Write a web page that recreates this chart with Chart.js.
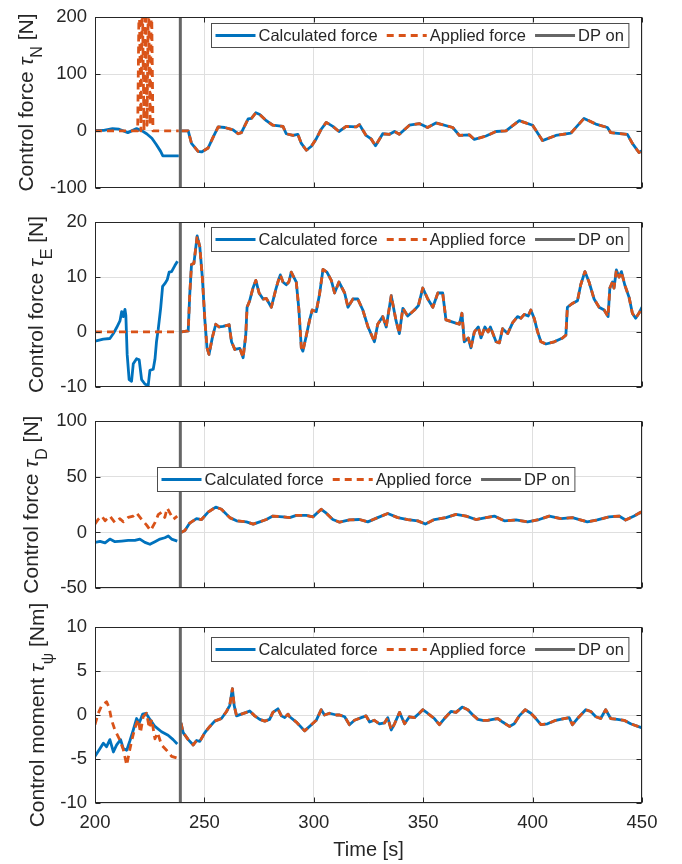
<!DOCTYPE html>
<html>
<head>
<meta charset="utf-8">
<script src="https://cdn.jsdelivr.net/npm/chart.js@4.4.0/dist/chart.umd.min.js"></script>
<style>
  html, body { margin: 0; padding: 0; background: #fff; }
  #wrap { position: relative; width: 682px; height: 864px; }
  #wrap canvas { position: absolute; left: 0; }
</style>
</head>
<body>
<div id="wrap">
  <canvas id="cN" width="682" height="205" style="top:0px"></canvas>
  <canvas id="cE" width="682" height="199" style="top:205px"></canvas>
  <canvas id="cD" width="682" height="208" style="top:404px"></canvas>
  <canvas id="cPsi" width="682" height="272" style="top:592px"></canvas>
</div>
<script>
const FONT = "'Liberation Sans', Arial, Helvetica, sans-serif";
const TXT = '#262626';
const GRID = 'rgb(223,223,223)';
const BLUE = '#0072BD';
const ORANGE = '#D95319';
const GREY = '#666666';

const dpOn = 239;
const timeRange = [200, 450];
const timeStep = 50;
const legendLabels = ['Calculated force', 'Applied force', 'DP on'];

// [time, value] pairs; *Post is shared by both series once DP is on
const nCalcPre = [[200, 1], [204, 1], [208, 4], [211, 3], [215, -3], [219, 4], [221.5, 0], [223.6, -5],
  [226, -13], [228, -24], [230, -36], [231, -44], [234, -44], [238.3, -44]];
const nApplPre = [[200, 0], [219.5, 0], [220.2, 250], [221, 0], [221.6, 250], [222.4, 0], [223, 250],
  [223.8, 10], [224.4, 250], [225.2, 10], [225.8, 250], [226.5, 0], [238.3, 0]];
const nPost = [[239.5, 0], [242.6, 0], [244.1, -22], [247.1, -36], [248.7, -37], [251.7, -30], [254, -11],
  [256.3, 7], [259.3, 6], [263.1, 2], [265.4, -5], [266.9, -3], [270, 21], [271.5, 22], [273.5, 32],
  [275.3, 29], [278.3, 18], [281.3, 10], [285.9, 8], [287.4, -5], [290.5, -8], [292.7, -6], [294.3, -22],
  [296.6, -34], [298.9, -27], [301.1, -14], [303.4, 3], [305.7, 15], [308.7, 8], [311.5, -1], [314.8, 8],
  [319.4, 7], [320.9, 11], [323.9, -8], [326.2, -14], [328.2, -26], [331.5, -5], [334.6, -6], [336.9, -1],
  [339.1, -6], [343.7, 10], [348.2, 13], [352, 6], [355.8, 14], [363.5, 6], [366.5, -8], [371.1, -7],
  [373.4, -15], [378.7, -9], [383.3, -1], [387.8, 0], [393.9, 18], [400, 10], [404.5, -17], [410.6, -8],
  [417.5, -4], [423.5, 22], [428.9, 12], [434.2, 6], [435.7, -3], [443.3, -6], [445.6, -22], [448.6, -38],
  [450, -35]];

const eCalcPre = [[200, -1.7], [203.8, -1.3], [206.8, -1.2], [208.4, -0.3], [209.9, 0.8], [211.4, 2],
  [212.2, 3.7], [212.9, 2.8], [213.7, 4.1], [214.1, 3], [214.7, -4.1], [215.6, -8.7], [216.7, -9],
  [217.5, -5.8], [219, -4.9], [220.2, -5.1], [221.3, -8.7], [222.8, -9.5], [224.3, -9.8], [225.1, -7],
  [226.6, -6.8], [227.4, -5], [228.1, -1.8], [228.9, 0.5], [230, 4.3], [230.9, 8.3], [231.9, 8.8],
  [233, 9.5], [233.9, 10.9], [235, 11], [236.5, 12.1], [237.7, 12.9]];
const eApplPre = [[200, 0], [238.3, 0]];
const ePost = [[239.5, 0], [242.6, 0.2], [243.3, 6.8], [244.1, 12.3], [245.2, 12.5], [246.7, 17.5],
  [247.9, 15.5], [249.1, 9.7], [250.2, 2.2], [251.2, -2.9], [252.1, -4.1], [253.7, -0.9], [255.2, 1.4],
  [256.7, 0.9], [258.5, 1], [261.3, 1.3], [262.4, -1.8], [263.9, -3.2], [266.2, -3], [267.7, -4.7],
  [268.9, -0.6], [269.5, 4.5], [270.7, 5.7], [272.2, 8], [273.5, 9.4], [275, 7.1], [276.8, 6],
  [278.3, 6.1], [280.6, 4.5], [282.6, 7.7], [283.6, 9.1], [284.7, 10.4], [285.9, 9.1], [287.4, 8.6],
  [288.6, 9.1], [289.7, 10.9], [292, 9.1], [293.2, 4], [294.3, -2.9], [295, -3.5], [296.3, -1.2],
  [298.1, 2.2], [299.3, 4], [301.1, 3.7], [302.6, 6.8], [304.2, 11.4], [306, 10.9], [308, 9.4],
  [309.5, 7.1], [311.5, 9.1], [314.1, 7.1], [315.6, 4.5], [317.9, 6], [320.1, 6], [322.4, 4],
  [324.7, 1], [327.7, -1.8], [329.2, 1.4], [331.5, 2.8], [333.1, 0.9], [335.4, 6.6], [337.6, 2],
  [339.1, -0.3], [340.7, 4.3], [342.9, 2.9], [346, 4], [347.8, 4.8], [349.8, 8], [352.1, 6],
  [354.4, 4.5], [356.7, 7.1], [358.9, 7.1], [360.4, 2.2], [364.2, 1.7], [366.5, 1.4], [367.7, 3.4],
  [368.8, -1.8], [370.6, -1.1], [371.8, -2.9], [373.4, 0], [375.2, 0.9], [376.4, -1.1], [378.2, 0.9],
  [379.7, 0], [380.7, 0.9], [383.3, -1.8], [384.8, -2], [386.3, 0.6], [388.6, -0.3], [390.9, 1.7],
  [393.1, 2.8], [394.7, 2.5], [396.2, 3.2], [398, 2.9], [399.2, 4], [400.7, 2.5], [402.3, 0],
  [403.8, -1.8], [406.1, -2.2], [409.9, -1.8], [413.7, -1.1], [415.2, -0.6], [415.9, 4.5], [418.2, 5.2],
  [420.5, 5.7], [422, 8.6], [423.9, 11], [425.8, 9.1], [428.1, 6], [430.4, 4.5], [432.7, 4],
  [434.5, 2.8], [435.3, 8], [436.5, 9.1], [437.2, 8], [438.3, 11.3], [439.5, 10], [440.6, 11],
  [442.1, 8.6], [444.1, 6.3], [445.6, 3.4], [447.1, 2.5], [448.6, 3.4], [450, 4.5]];

const dCalcPre = [[200, -9], [202.3, -8], [204.6, -9.4], [206.8, -6], [209.1, -8.3], [212.2, -7.8],
  [215.2, -7.2], [218.2, -7.2], [220.5, -6], [222.8, -9], [225.1, -10.7], [227.4, -8.3], [229.7, -6],
  [231.9, -4.8], [233.5, -3.2], [235, -6], [237.6, -7.8]];
const dApplPre = [[200, 7.5], [201.5, 11.8], [203.1, 14.7], [204.6, 10.5], [206.8, 14.7], [209.1, 8.8],
  [211.4, 12.4], [212.9, 9.5], [215.2, 13.5], [217.5, 14.7], [219, 17.6], [221.3, 11.8], [223.6, 6.6],
  [225.4, 1.7], [227.4, 8.8], [228.9, 16], [230.4, 18.2], [231.9, 13.5], [233, 21.9], [234.2, 17.6],
  [235.8, 11.8], [237.6, 14.7]];
const dPost = [[239.3, 0], [241.1, 1.7], [243.3, 8.4], [246.4, 12.4], [248.7, 11.6], [251.7, 18.2],
  [255.2, 22.8], [257.8, 20.8], [261.6, 13.3], [264.7, 10.4], [269.2, 9.5], [272.3, 7.5], [275.3, 9.5],
  [278.3, 11.6], [281.3, 14.7], [285.9, 14], [289, 13.3], [292, 15.3], [296.6, 15.3], [299.6, 14],
  [303.4, 20.8], [305.7, 17.3], [308.7, 11.6], [311.8, 9.2], [316.3, 11.2], [320.9, 11.6], [324.7, 9.5],
  [329.2, 13.3], [333.8, 17], [338.4, 13.3], [342.9, 11.6], [347.5, 10.4], [351, 7.5], [355.1, 11.6],
  [360.4, 13.3], [365, 16.2], [369.6, 14.7], [374.1, 11.6], [378.7, 13.3], [382.5, 14.7], [387.1, 10.4],
  [392.4, 11.2], [397.7, 9.5], [403, 11.6], [407.6, 14.7], [412.9, 12.4], [418.2, 13.3], [425, 9.5],
  [429.6, 11.2], [434.9, 14], [439.5, 14.7], [442.5, 11.2], [446.4, 14.7], [449.4, 18.2], [450, 17]];

const psiCalcPre = [[200, -4.7], [202.3, -3.8], [203.8, -3.2], [205.3, -3.6], [206.8, -2.8], [208.4, -4.2],
  [209.9, -3.4], [211.7, -2.8], [212.9, -3.8], [214.5, -4], [216, -2.9], [217.5, -1.7], [219, -0.4],
  [220.2, -0.9], [221.8, 0.1], [223.3, 0.2], [225.1, -0.5], [227.4, -1.3], [230.4, -1.9], [233.4, -2.3],
  [235.7, -2.8], [237.6, -3.3]];
const psiApplPre = [[200, -1.1], [201.5, 0.2], [203.1, 1.1], [205.3, 1.5], [206.5, 0.8], [207.6, -0.6],
  [209.1, -1.7], [211.1, -2.7], [212.9, -3.9], [214.5, -5.7], [215.6, -4.3], [216.7, -3], [218.2, -1.5],
  [219.7, -0.5], [220.8, -2], [222, -0.2], [223.6, 0.2], [224.8, -1.5], [225.9, -0.5], [227.4, -2.7],
  [228.6, -2], [230.4, -3.4], [232.7, -4], [235, -4.7], [237.6, -4.9]];
const psiPost = [[239.3, -0.9], [240.3, -2], [242.6, -2.8], [244.9, -3.4], [246.4, -2.9], [247.9, -3],
  [250.2, -2], [252.5, -1.3], [254.7, -0.7], [257.8, -0.4], [260.1, 0.4], [261.6, 1.1], [262.8, 3],
  [263.6, 1.1], [264.7, -0.1], [266.9, 0.1], [269.2, 0.3], [270.7, 0.45], [273, -0.1], [275.3, -0.5],
  [277.6, -0.7], [279.8, -0.5], [281.3, 0.3], [283.6, 0.7], [285.2, -0.1], [286.7, -0.3], [288.2, 0.1],
  [289, -0.2], [292, -0.8], [295.8, -1.8], [298.9, -1.1], [301.1, -0.6], [303.4, 0.6], [304.9, 0],
  [307.2, 0.2], [310.3, 0], [311.8, 0], [314.1, -0.2], [316.3, -1.1], [318.6, -0.6], [321.7, -0.3],
  [323.9, -0.1], [325.5, -0.8], [327.7, -0.6], [330, -1], [332.3, -0.9], [333.8, -0.3], [335.4, -1.7],
  [336.9, -1], [339.2, 0.3], [341.5, -1], [343.7, -0.2], [346, -0.3], [348.2, 0.2], [349.8, 0.6],
  [352, 0.2], [355.1, -0.4], [357.4, -1.1], [359.7, -0.4], [362.7, 0.4], [365, 0.3], [367.8, 0.9],
  [370.4, 0.6], [372.7, 0], [375, -0.5], [377.2, -0.6], [379.5, -0.6], [381.8, -0.5], [384.1, -0.4],
  [386.3, -0.8], [389.4, -1.3], [391.6, -1], [393.9, -0.1], [396.6, 0.6], [399.2, 0.2], [401.5, -0.4],
  [403.8, -1.1], [406.8, -1], [410.6, -0.6], [414.4, -0.4], [416.7, -0.3], [418.2, -1.1], [420.5, -0.4],
  [424.3, 0.6], [426.6, 0.4], [428.9, -0.2], [431.1, -0.4], [433.4, 0.6], [435.7, -0.4], [438.7, -0.5],
  [441.8, -0.6], [444.8, -1], [449.4, -1.4], [450, -1.5]];

const toPoints = pairs => pairs.map(([x, y]) => ({ x, y }));

// pre-DP and post-DP parts, broken at the DP switch
const series = (pre, post) => [...toPoints(pre), { x: dpOn, y: null }, ...toPoints(post)];

// frame, inner ticks, y label with subscript and the legend box
const framePlugin = {
  id: 'frame',
  afterDraw(chart, args, opts) {
    const { ctx, chartArea: a } = chart;
    const xs = chart.scales.x;
    const ys = chart.scales.y;
    ctx.save();

    ctx.strokeStyle = TXT;
    ctx.lineWidth = 1;
    const L = Math.round(a.left) + 0.5;
    const R = Math.round(a.right) - 0.5;
    const T = Math.round(a.top) + 0.5;
    const B = Math.round(a.bottom) - 0.5;
    ctx.strokeRect(L, T, R - L, B - T);
    ctx.beginPath();
    ys.ticks.forEach(t => {
      const p = Math.round(ys.getPixelForValue(t.value)) + 0.5;
      ctx.moveTo(L, p); ctx.lineTo(L + 5, p);
      ctx.moveTo(R, p); ctx.lineTo(R - 5, p);
    });
    xs.ticks.forEach(t => {
      const p = Math.round(xs.getPixelForValue(t.value)) + 0.5;
      ctx.moveTo(p, T); ctx.lineTo(p, T + 5);
      ctx.moveTo(p, B); ctx.lineTo(p, B - 5);
    });
    ctx.stroke();

    // rotated y label
    const parts = opts.label;
    let total = 0;
    parts.forEach(s => { ctx.font = s.font; s.w = ctx.measureText(s.text).width; total += s.w; });
    ctx.translate(opts.labelX, (a.top + a.bottom) / 2);
    ctx.rotate(-Math.PI / 2);
    ctx.fillStyle = TXT;
    ctx.textBaseline = 'alphabetic';
    let u = -total / 2;
    parts.forEach(s => {
      ctx.font = s.font;
      ctx.fillText(s.text, u, s.dy || 0);
      u += s.w;
    });
    ctx.setTransform(1, 0, 0, 1, 0, 0);

    // legend
    const lf = '16.5px ' + FONT;
    ctx.font = lf;
    const sample = 40;
    const widths = legendLabels.map(t => ctx.measureText(t).width);
    const boxW = 4 + widths.reduce((s, w) => s + sample + 3 + w, 0) + 9 * 2 + 5;
    const bx = opts.legendX + 0.5;
    const by = opts.legendY + 0.5;
    const bh = 24;
    ctx.fillStyle = '#fff';
    ctx.fillRect(bx, by, boxW, bh);
    ctx.strokeStyle = '#4d4d4d';
    ctx.lineWidth = 1;
    ctx.strokeRect(bx, by, boxW, bh);
    const styles = [
      { color: BLUE, width: 2.8, dash: [] },
      { color: ORANGE, width: 2.8, dash: [7, 5] },
      { color: GREY, width: 3, dash: [] }
    ];
    let x = bx + 4;
    const cy = by + bh / 2;
    legendLabels.forEach((t, i) => {
      const st = styles[i];
      ctx.beginPath();
      ctx.setLineDash(st.dash);
      ctx.strokeStyle = st.color;
      ctx.lineWidth = st.width;
      ctx.moveTo(x, cy); ctx.lineTo(x + sample, cy);
      ctx.stroke();
      ctx.setLineDash([]);
      x += sample + 3;
      ctx.fillStyle = TXT;
      ctx.font = lf;
      ctx.textBaseline = 'middle';
      ctx.fillText(t, x, cy + 1);
      x += widths[i] + 9;
    });
    ctx.restore();
  }
};

function label(name, sub, unit) {
  return [
    { text: 'Control ' + name + ' ', font: '21px ' + FONT },
    { text: 'τ', font: 'italic 21px ' + FONT },
    { text: sub, font: '16px ' + FONT, dy: 9 },
    { text: ' [' + unit + ']', font: '21px ' + FONT }
  ];
}

function makeChart(id, cfg) {
  const tickFont = { family: FONT, size: 18.5, lineHeight: 1 };
  return new Chart(document.getElementById(id), {
    type: 'line',
    data: {
      datasets: [
        { data: [{ x: dpOn, y: cfg.range[0] }, { x: dpOn, y: cfg.range[1] }], borderColor: GREY, borderWidth: 3 },
        { data: series(cfg.applPre, cfg.post), borderColor: ORANGE, borderWidth: 2.8, borderDash: [7, 5], clip: 0 },
        { data: series(cfg.calcPre, cfg.post), borderColor: BLUE, borderWidth: 2.8, clip: 0 }
      ]
    },
    options: {
      responsive: false,
      animation: false,
      devicePixelRatio: 1,
      elements: { point: { radius: 0 }, line: { tension: 0, borderJoinStyle: 'round' } },
      layout: { padding: cfg.padding },
      plugins: {
        legend: { display: false },
        tooltip: { enabled: false },
        frame: { label: cfg.label, labelX: cfg.labelX, legendX: cfg.legend[0], legendY: cfg.legend[1] }
      },
      scales: {
        x: {
          type: 'linear',
          min: timeRange[0],
          max: timeRange[1],
          ticks: { stepSize: timeStep, display: cfg.bottom, font: tickFont, color: TXT, padding: 11, maxRotation: 0 },
          grid: { color: GRID, drawTicks: false },
          border: { display: false },
          title: {
            display: cfg.bottom, text: 'Time [s]', color: TXT,
            font: { family: FONT, size: 20 }, padding: { top: 0, bottom: 2 }
          },
          afterFit: s => { s.height = cfg.bottom ? 61 : 0; }
        },
        y: {
          min: cfg.range[0],
          max: cfg.range[1],
          ticks: { stepSize: cfg.step, font: tickFont, color: TXT, padding: 8 },
          grid: { color: GRID, drawTicks: false },
          border: { display: false },
          afterFit: s => { s.width = 95; }
        }
      }
    },
    plugins: [framePlugin]
  });
}

makeChart('cN', {
  range: [-100, 200], step: 100, calcPre: nCalcPre, applPre: nApplPre, post: nPost,
  padding: { top: 12, bottom: 11, left: 0, right: 40 }, bottom: false,
  label: label('force', 'N', 'N'), labelX: 33, legend: [211, 23]
});
makeChart('cE', {
  range: [-10, 20], step: 10, calcPre: eCalcPre, applPre: eApplPre, post: ePost,
  padding: { top: 12, bottom: 13, left: 0, right: 40 }, bottom: false,
  label: label('force', 'E', 'N'), labelX: 43, legend: [211, 22]
});
makeChart('cD', {
  range: [-50, 100], step: 50, calcPre: dCalcPre, applPre: dApplPre, post: dPost,
  padding: { top: 11, bottom: 24, left: 0, right: 40 }, bottom: false,
  label: label('force', 'D', 'N'), labelX: 38, legend: [157, 63]
});
makeChart('cPsi', {
  range: [-10, 10], step: 5, calcPre: psiCalcPre, applPre: psiApplPre, post: psiPost,
  padding: { top: 35, bottom: 0, left: 0, right: 40 }, bottom: true,
  label: label('moment', 'ψ', 'Nm'), labelX: 44, legend: [211, 45]
});
</script>
</body>
</html>
